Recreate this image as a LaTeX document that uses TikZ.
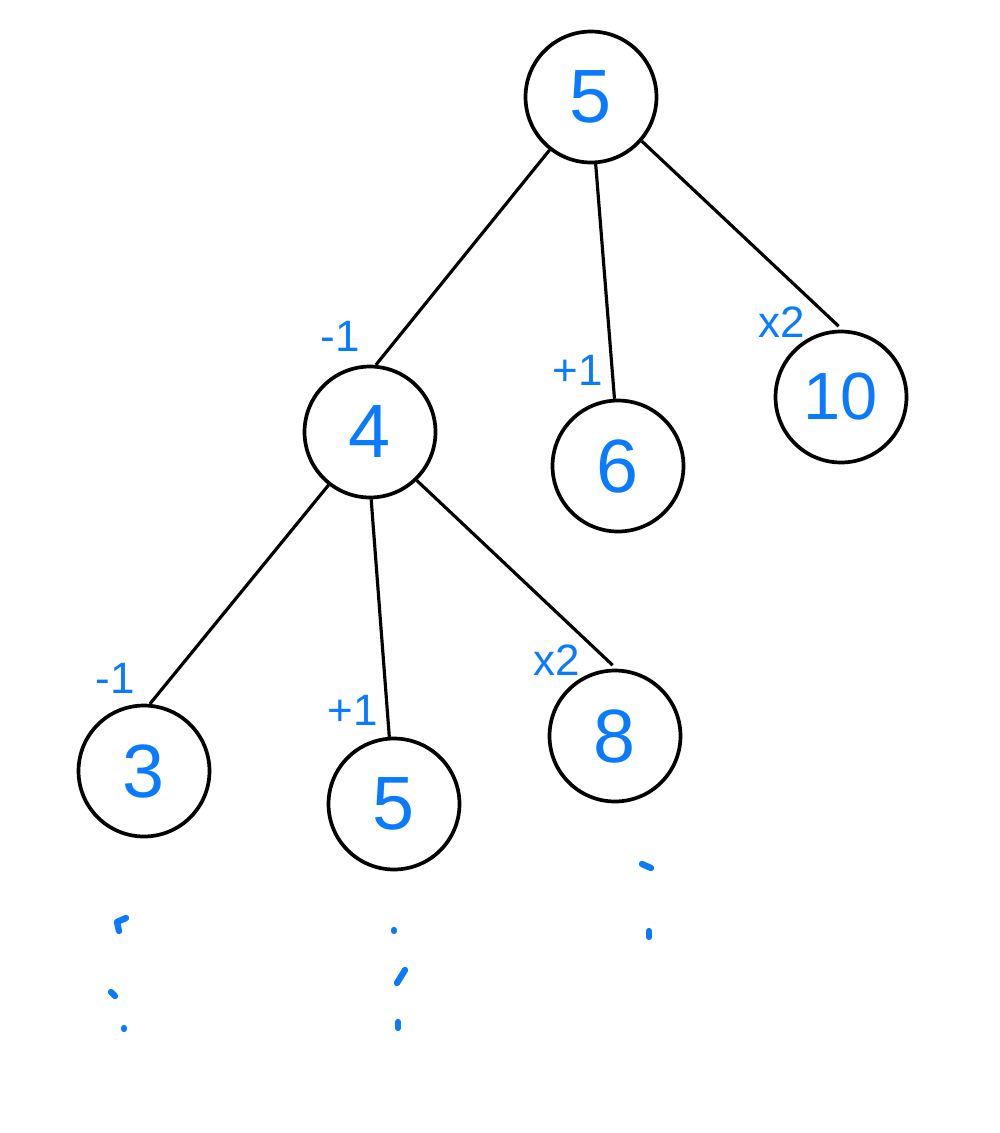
\documentclass[tikz,border=0pt]{standalone}
\usepackage{fontspec}
\setmainfont{Liberation Sans}
\definecolor{ink}{HTML}{0A7BFF}
\begin{document}
\begin{tikzpicture}[x=0.02cm,y=-0.02cm,
  tnode/.style={circle,draw=black,line width=2.1pt,minimum size=2.62cm,inner sep=0pt,
    text=ink,font=\fontsize{43}{43}\selectfont},
  edge/.style={draw=black,line width=1.8pt},
  oplabel/.style={text=ink,font=\fontsize{25}{25}\selectfont,inner sep=0pt},
  dotmark/.style={draw=ink,line width=3.6pt,line cap=round,line join=round}]
\useasboundingbox (0,0) rectangle (1000,1133);
\fill[white] (0,0) rectangle (1000,1133);
% nodes
\node[tnode] (r) at (591,97) {5};
\node[tnode] (a) at (370,432) {4};
\node[tnode] (b) at (618,466) {6};
\node[tnode] (c) at (841,397) {\fontsize{38}{38}\selectfont 10};
\node[tnode] (d) at (144,771) {3};
\node[tnode] (e) at (394,804) {5};
\node[tnode] (f) at (615,736) {8};
% edges
\draw[edge] (r.232) -- (a.85);
\draw[edge] (r.274) -- (b.93);
\draw[edge] (r.319) -- ([yshift=2pt]c.92);
\draw[edge] (a.232) -- (d.85);
\draw[edge] (a.271) -- (e.94);
\draw[edge] (a.314) -- ([yshift=2pt]f.92);
% operation labels
\node[oplabel] (l1) at (340,336) {-1};
\node[oplabel] (l2) at (578,370) {+1};
\node[oplabel] (l3) at (782,322) {x2};
\node[oplabel] (l4) at (115,678) {-1};
\node[oplabel] (l5) at (353,710) {+1};
\node[oplabel] (l6) at (557,660) {x2};
% continuation marks
\draw[dotmark] (126,918) -- (117,922) -- (119,931);
\draw[dotmark] (111,992) -- (115,996);
\draw[dotmark] (124,1028) -- (124,1029);
\draw[dotmark] (394,930) -- (394,931);
\draw[dotmark] (405,970) -- (397,983);
\draw[dotmark] (398,1022) -- (398,1028);
\draw[dotmark] (642,864) -- (651,868);
\draw[dotmark] (649,931) -- (649,937);
\end{tikzpicture}
\end{document}
